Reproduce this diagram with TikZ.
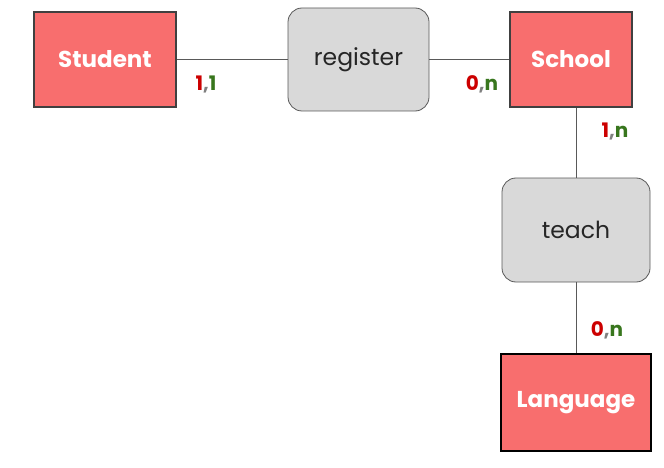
\documentclass[tikz,border=0pt]{standalone}
\usepackage{fontspec}
\setmainfont{Poppins}
\definecolor{entfill}{HTML}{F86E6E}
\definecolor{relfill}{HTML}{D9D9D9}
\definecolor{cardred}{HTML}{CC0000}
\definecolor{cardgreen}{HTML}{38761D}
\definecolor{linegray}{HTML}{595959}
\tikzset{
  entity/.style={draw=black!75, line width=1.6pt, fill=entfill, text=white, font=\fontsize{23}{25}\selectfont\bfseries, inner sep=0pt},
  relation/.style={draw=linegray, line width=0.8pt, fill=relfill, rounded corners=14pt, text=black!85, font=\fontsize{23.5}{25}\selectfont, inner sep=0pt},
  conn/.style={draw=linegray, line width=0.8pt},
  card/.style={font=\fontsize{20}{22}\selectfont\bfseries, inner sep=0pt}
}
\newcommand{\cardtxt}[2]{\textcolor{cardred}{#1}\textcolor{black!50}{,}\textcolor{cardgreen}{#2}}
\begin{document}
\begin{tikzpicture}[x=1pt,y=-1pt]
\useasboundingbox (0,0) rectangle (664,468);
\node[entity, minimum width=142pt, minimum height=95pt] (student) at (105,59.5) {Student};
\node[relation, minimum width=141pt, minimum height=103pt] (register) at (358.5,59.5) {register};
\node[entity, minimum width=122pt, minimum height=95pt] (school) at (571,59.5) {School};
\node[relation, minimum width=148pt, minimum height=104pt] (teach) at (576,230) {teach};
\node[entity, draw=black, line width=2.4pt, minimum width=150pt, minimum height=97pt] (language) at (576,402.5) {Language};
\draw[conn] (student.east) -- (register.west);
\draw[conn] (register.east) -- (school.west);
\coordinate (schoolb) at (teach.north |- school.south);
\draw[conn] (schoolb) -- (teach.north);
\draw[conn] (teach.south) -- (language.north);
\node[card] (c1) at (206,84) {\cardtxt{1}{1}};
\node[card] (c2) at (482,84) {\cardtxt{0}{n}};
\node[card] (c3) at (615,131) {\cardtxt{1}{n}};
\node[card] (c4) at (607,330) {\cardtxt{0}{n}};
\end{tikzpicture}
\end{document}
